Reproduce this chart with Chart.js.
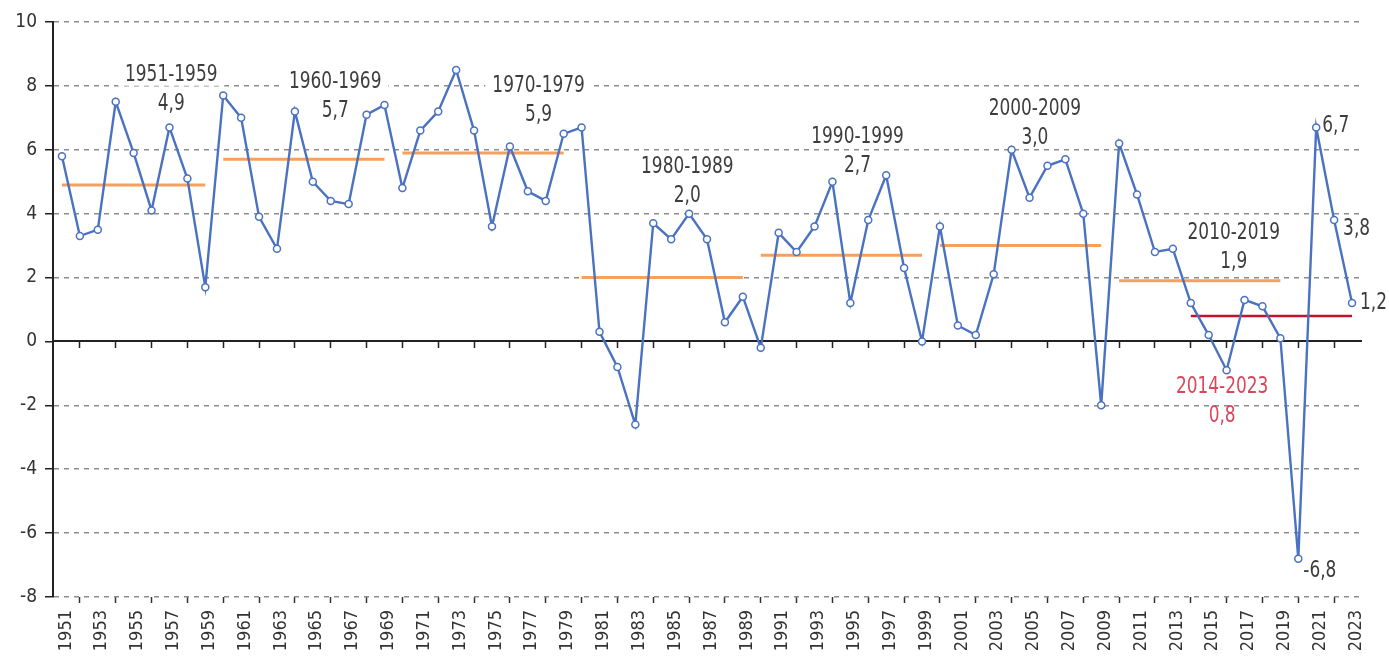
<!DOCTYPE html>
<html>
<head>
<meta charset="utf-8">
<script src="https://cdn.jsdelivr.net/npm/chart.js@4.4.1/dist/chart.umd.min.js"></script>
<style>
  html, body { margin: 0; padding: 0; background: #fff; }
</style>
</head>
<body>
<canvas id="growthChart" width="1389" height="656"></canvas>
<script>
// years on the x axis
const years = [
  "1951","1952","1953","1954","1955","1956","1957","1958","1959",
  "1960","1961","1962","1963","1964","1965","1966","1967","1968","1969",
  "1970","1971","1972","1973","1974","1975","1976","1977","1978","1979",
  "1980","1981","1982","1983","1984","1985","1986","1987","1988","1989",
  "1990","1991","1992","1993","1994","1995","1996","1997","1998","1999",
  "2000","2001","2002","2003","2004","2005","2006","2007","2008","2009",
  "2010","2011","2012","2013","2014","2015","2016","2017","2018","2019",
  "2020","2021","2022","2023"
];

// yearly values
const growth = [
  5.8, 3.3, 3.5, 7.5, 5.9, 4.1, 6.7, 5.1, 1.7,
  7.7, 7.0, 3.9, 2.9, 7.2, 5.0, 4.4, 4.3, 7.1, 7.4,
  4.8, 6.6, 7.2, 8.5, 6.6, 3.6, 6.1, 4.7, 4.4, 6.5,
  6.7, 0.3, -0.8, -2.6, 3.7, 3.2, 4.0, 3.2, 0.6, 1.4,
  -0.2, 3.4, 2.8, 3.6, 5.0, 1.2, 3.8, 5.2, 2.3, 0.0,
  3.6, 0.5, 0.2, 2.1, 6.0, 4.5, 5.5, 5.7, 4.0, -2.0,
  6.2, 4.6, 2.8, 2.9, 1.2, 0.2, -0.9, 1.3, 1.1, 0.1,
  -6.8, 6.7, 3.8, 1.2
];

// period averages
const periodNames = ["1951-1959", "1960-1969", "1970-1979", "1980-1989", "1990-1999", "2000-2009", "2010-2019", "2014-2023"];
const periodStart = ["1951", "1960", "1970", "1980", "1990", "2000", "2010", "2014"];
const periodEnd   = ["1959", "1969", "1979", "1989", "1999", "2009", "2019", "2023"];
const periodAvg   = [4.9, 5.7, 5.9, 2.0, 2.7, 3.0, 1.9, 0.8];

// y axis ticks
const yTicks = [-8, -6, -4, -2, 0, 2, 4, 6, 8, 10];

// where the period texts sit (x = category index, y = axis value)
const periodTextX = [6.1, 15.25, 26.6, 34.9, 44.4, 54.3, 65.4, 64.75];
const periodTextY = [8.35, 8.13, 8.0, 5.47, 6.41, 7.28, 3.4, -1.42];

// years that get a value label, with pixel offsets
const valueLabelYears = ["2020", "2021", "2022", "2023"];
const valueLabelShift = [[5, 12], [6, -1], [9, 9], [8, 0]];

const FONT = '"DejaVu Sans Condensed", "Liberation Sans Narrow", sans-serif';
const SQUEEZE = 0.82;   // narrow the annotation text like the original
const BLUE = "#4a72c0";
const ORANGE = "#f5a05c";
const DARKRED = "#c4122f";
const TEXT = "#3d3d3d";
const REDTEXT = "#d9475a";

const fmt = v => v.toFixed(1).replace(".", ",");

// average segments, one dataset each
const periodSets = periodNames.map((name, i) => ({
  label: name,
  data: [{ x: periodStart[i], y: periodAvg[i] }, { x: periodEnd[i], y: periodAvg[i] }],
  borderColor: i === 7 ? DARKRED : ORANGE,
  borderWidth: i === 7 ? 2.5 : 3,
  pointRadius: 0,
  order: 2
}));

function narrowText(ctx, txt, x, y) {
  ctx.save();
  ctx.translate(x, y);
  ctx.scale(SQUEEZE, 1);
  ctx.fillText(txt, 0, 0);
  ctx.restore();
}

const textPlugin = {
  id: "periodText",
  beforeDatasetsDraw(chart) {
    const { ctx, scales: { x, y } } = chart;
    ctx.save();
    ctx.font = "23px " + FONT;
    ctx.fillStyle = "#fff";
    periodNames.forEach((name, i) => {
      if (i >= 6) return;
      const w = ctx.measureText(name).width * SQUEEZE + 14;
      const px = x.getPixelForValue(periodTextX[i]);
      const py = y.getPixelForValue(periodTextY[i]);
      ctx.fillRect(px - w / 2, py - 11, w, 22);
    });
    ctx.restore();
  },
  afterDatasetsDraw(chart) {
    const { ctx, scales: { x, y } } = chart;
    ctx.save();
    ctx.font = "23px " + FONT;
    ctx.textAlign = "center";
    ctx.textBaseline = "middle";
    periodNames.forEach((name, i) => {
      const px = x.getPixelForValue(periodTextX[i]);
      const py = y.getPixelForValue(periodTextY[i]);
      ctx.fillStyle = i === 7 ? REDTEXT : TEXT;
      narrowText(ctx, name, px, py);
      narrowText(ctx, fmt(periodAvg[i]), px, py + 29);
    });
    ctx.textAlign = "left";
    ctx.fillStyle = TEXT;
    valueLabelYears.forEach((yr, i) => {
      const idx = years.indexOf(yr);
      const px = x.getPixelForValue(idx) + valueLabelShift[i][0];
      const py = y.getPixelForValue(growth[idx]) + valueLabelShift[i][1];
      narrowText(ctx, fmt(growth[idx]), px, py);
    });
    ctx.restore();
  }
};

new Chart(document.getElementById("growthChart"), {
  type: "line",
  data: {
    labels: years,
    datasets: [
      {
        label: "growth",
        data: growth,
        borderColor: BLUE,
        borderWidth: 2.4,
        pointRadius: 3.5,
        pointBorderWidth: 1.5,
        pointBackgroundColor: "#fff",
        pointBorderColor: BLUE,
        tension: 0,
        order: 1
      },
      ...periodSets
    ]
  },
  options: {
    responsive: false,
    animation: false,
    layout: { padding: { left: 0, right: 28, top: 22, bottom: 0 } },
    plugins: {
      legend: { display: false },
      tooltip: { enabled: false }
    },
    scales: {
      x: {
        offset: true,
        grid: {
          drawOnChartArea: false,
          offset: false,
          tickLength: 6,
          tickWidth: 1.5,
          tickColor: ctx => ctx.index % 2 === 1 ? "#333" : "rgba(0,0,0,0)"
        },
        border: { display: false },
        ticks: {
          autoSkip: false,
          minRotation: 90,
          maxRotation: 90,
          padding: 7,
          labelOffset: 4,
          color: "#333",
          font: { family: FONT, size: 18 },
          callback: (v, i) => i % 2 === 0 ? years[i] : ""
        },
        afterFit: s => { s.height = 59; }
      },
      x2: {
        type: "category",
        position: { y: 0 },
        offset: true,
        grid: {
          drawOnChartArea: false,
          offset: false,
          tickLength: 6,
          tickWidth: 1.5,
          tickColor: ctx => ctx.index % 2 === 1 ? "#222" : "rgba(0,0,0,0)"
        },
        border: { display: true, color: "#222", width: 2 },
        ticks: { display: false },
        afterFit: s => { s.height = 0; }
      },
      y: {
        min: -8,
        max: 10,
        afterBuildTicks: s => { s.ticks = yTicks.map(v => ({ value: v })); },
        ticks: {
          color: "#333",
          padding: 8,
          font: { family: FONT, size: 19 }
        },
        grid: {
          color: ctx => ctx.tick && ctx.tick.value === 0 ? "rgba(0,0,0,0)" : "#8c8c8c",
          lineWidth: 1.5,
          tickColor: "#222",
          tickLength: 8,
          tickWidth: 1.5
        },
        border: { display: true, color: "#222", width: 2, dash: [5, 5] },
        afterFit: s => { s.width = 53; }
      }
    }
  },
  plugins: [textPlugin]
});
</script>
</body>
</html>
